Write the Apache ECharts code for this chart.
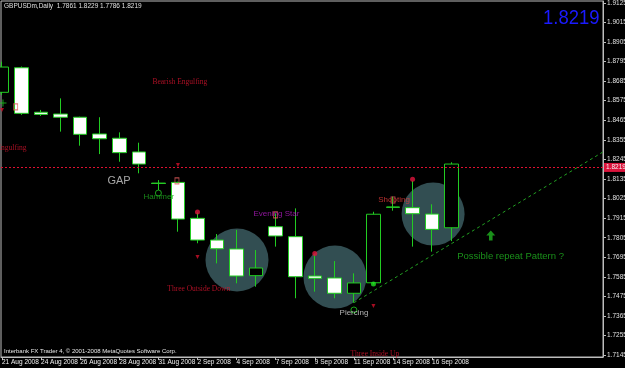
<!DOCTYPE html>
<html>
<head>
<meta charset="utf-8">
<script src="https://cdn.jsdelivr.net/npm/echarts@6/dist/echarts.min.js"></script>
<style>
  html, body { margin: 0; padding: 0; background: #000; }
  #chart { width: 625px; height: 368px; }
</style>
</head>
<body>
<div id="chart"></div>
<script>
// GBPUSDm daily bars
const symbolName = 'GBPUSDm';
const dates = [
  '21 Aug 2008', '22 Aug 2008', '24 Aug 2008', '25 Aug 2008', '26 Aug 2008', '27 Aug 2008',
  '28 Aug 2008', '29 Aug 2008', '31 Aug 2008', '1 Sep 2008', '2 Sep 2008', '3 Sep 2008',
  '4 Sep 2008', '5 Sep 2008', '7 Sep 2008', '8 Sep 2008', '9 Sep 2008', '10 Sep 2008',
  '11 Sep 2008', '12 Sep 2008', '14 Sep 2008', '15 Sep 2008', '16 Sep 2008', '17 Sep 2008'
];
const opens  = [1.8622, 1.8760, 1.8510, 1.8500, 1.8482, 1.8388, 1.8364, 1.8287, 1.8112, 1.8116, 1.7914, 1.7792,
                1.7742, 1.7592, 1.7867, 1.7811, 1.7590, 1.7579, 1.7493, 1.7552, 1.7978, 1.7974, 1.7938, 1.7861];
const highs  = [1.8794, 1.8767, 1.8523, 1.8588, 1.8485, 1.8482, 1.8397, 1.8339, 1.8129, 1.8120, 1.7947, 1.7826,
                1.7849, 1.7736, 1.7942, 1.7970, 1.7712, 1.7674, 1.7605, 1.7951, 1.8036, 1.8124, 1.7993, 1.8229];
const lows   = [1.8607, 1.8495, 1.8489, 1.8401, 1.8322, 1.8275, 1.8232, 1.8167, 1.8073, 1.7839, 1.7774, 1.7661,
                1.7549, 1.7530, 1.7755, 1.7465, 1.7502, 1.7465, 1.7440, 1.7543, 1.7957, 1.7755, 1.7727, 1.7786];
const closes = [1.8764, 1.8504, 1.8498, 1.8482, 1.8386, 1.8361, 1.8283, 1.8219, 1.8110, 1.7910, 1.7792, 1.7743,
                1.7590, 1.7635, 1.7815, 1.7586, 1.7577, 1.7493, 1.7551, 1.7937, 1.7976, 1.7940, 1.7852, 1.8219];

const priceTicks = [1.9125, 1.9015, 1.8905, 1.8795, 1.8685, 1.8575, 1.8465, 1.8355, 1.8245, 1.8135,
                    1.8025, 1.7915, 1.7805, 1.7695, 1.7585, 1.7475, 1.7365, 1.7255, 1.7145];
const dateTicks = [0, 2, 4, 6, 8, 10, 12, 14, 16, 18, 20, 22];

// trend line from the 11 Sep low out to the right edge
const trendX = [18, 30.74];
const trendY = [1.7440, 1.8287];

// shaded circles around the pattern groups (centre in bar index / price)
const circleX = [12.02, 17.03, 22.05];
const circleY = [1.7680, 1.7584, 1.7938];

// pattern labels drawn by the indicator
const annoText = ['Engulfing', 'Bearish Engulfing', 'GAP', 'Hammer', 'Three Outside Down', 'Evening Star',
                  'Piercing', 'Shooting', 'Three Inside Up', 'Possible repeat Pattern ?'];
const annoX = [1.28, 7.67, 5.99, 7.21, 8.43, 12.84, 17.24, 19.22, 17.80, 23.26];
const annoY = [1.8309, 1.8680, 1.8124, 1.8034, 1.7515, 1.7938, 1.7382, 1.8017, 1.7152, 1.7702];

// small arrow objects
const redDotX = [10, 16, 21];
const redDotY = [1.7950, 1.7716, 1.8133];
const redMarkX = [0, 9, 10, 19];
const redMarkY = [1.8523, 1.8214, 1.7697, 1.7422];
const redBoxX = [0.70, 8.95, 13.99, 20.0];
const redBoxY = [1.8540, 1.8124, 1.7933, 1.8017];
const greenRingX = [8.0, 18.0];
const greenRingY = [1.8056, 1.7399];
const greenPlusX = [0.05];
const greenPlusY = [1.8562];
const greenDotX = [19];
const greenDotY = [1.7545];
const arrowX = [25.0];
const arrowY = [1.7817];

const last = opens.length - 1;
const lastClose = closes[last];

const zip = (xs, ys) => xs.map((x, i) => [x, ys[i]]);

const labelStyles = {
  'Engulfing':          { color: '#d8142e', fontFamily: 'Liberation Serif', fontSize: 7.5, position: 'left' },
  'Bearish Engulfing':  { color: '#d8142e', fontFamily: 'Liberation Serif', fontSize: 7.5 },
  'GAP':                { color: '#cfcfcf', fontFamily: 'Liberation Sans', fontSize: 11, position: 'inside' },
  'Hammer':             { color: '#1faa1f', fontFamily: 'Liberation Sans', fontSize: 8 },
  'Three Outside Down': { color: '#d8142e', fontFamily: 'Liberation Serif', fontSize: 7.5 },
  'Evening Star':       { color: '#b41cc4', fontFamily: 'Liberation Sans', fontSize: 8 },
  'Piercing':           { color: '#dcdcdc', fontFamily: 'Liberation Sans', fontSize: 8 },
  'Shooting':           { color: '#e83c3c', fontFamily: 'Liberation Sans', fontSize: 8 },
  'Three Inside Up':    { color: '#d8142e', fontFamily: 'Liberation Serif', fontSize: 7.5 },
  'Possible repeat Pattern ?': { color: '#20b420', fontFamily: 'Liberation Sans', fontSize: 9.5 }
};

const annoData = annoText.map((t, i) => {
  const s = labelStyles[t];
  return {
    value: [annoX[i], annoY[i]],
    label: {
      show: true,
      formatter: t,
      position: s.position || 'right',
      distance: 0,
      color: s.color,
      fontFamily: s.fontFamily,
      fontSize: s.fontSize
    }
  };
});

const chart = echarts.init(document.getElementById('chart'));
const green = '#22cc22';

const option = {
  backgroundColor: '#000',
  animation: false,
  textStyle: { fontFamily: 'Liberation Sans' },
  grid: {
    left: 1, right: 22, top: 1, bottom: 11,
    show: true, borderColor: '#bdbdbd', borderWidth: 1, backgroundColor: '#000',
    outerBoundsMode: 'none'
  },
  xAxis: {
    type: 'value',
    min: -0.05,
    max: 30.74,
    splitLine: { show: false },
    axisLine: { onZero: false, lineStyle: { color: '#bdbdbd' } },
    axisTick: { customValues: dateTicks, length: 3, lineStyle: { color: '#bdbdbd' } },
    axisLabel: {
      customValues: dateTicks,
      formatter: v => dates[v],
      color: '#f0f0f0',
      fontSize: 6.5,
      align: 'left',
      margin: 2
    }
  },
  yAxis: {
    type: 'value',
    position: 'right',
    min: 1.7135,
    max: 1.9135,
    splitLine: { show: false },
    axisLine: { show: true, onZero: false, lineStyle: { color: '#bdbdbd' } },
    axisTick: { show: true, customValues: priceTicks, length: 3, lineStyle: { color: '#bdbdbd' } },
    axisLabel: {
      customValues: priceTicks,
      formatter: v => v.toFixed(4),
      color: '#e0e0e0',
      fontSize: 6.5,
      margin: 4
    }
  },
  graphic: [
    {
      type: 'text', x: 4, y: 3,
      style: {
        text: `${symbolName},Daily  ${opens[last].toFixed(4)} ${highs[last].toFixed(4)} ${lows[last].toFixed(4)} ${lastClose.toFixed(4)}`,
        fill: '#e0e0e0', font: '6.5px "Liberation Sans"'
      }
    },
    {
      type: 'text', x: 543, y: 8, scaleX: 0.88,
      style: { text: lastClose.toFixed(4), fill: '#1a1aff', font: '21px "Liberation Sans"' }
    },
    {
      type: 'text', x: 4, y: 348,
      style: {
        text: 'Interbank FX Trader 4, \u00a9 2001-2008 MetaQuotes Software Corp.',
        fill: '#e8e8e8', font: '6px "Liberation Sans"'
      }
    }
  ],
  series: [
    {
      type: 'scatter',
      data: zip(circleX, circleY),
      symbolSize: 63,
      itemStyle: { color: '#3e6266' },
      silent: true,
      z: 1
    },
    {
      type: 'candlestick',
      // [bar index, open, close, low, high]
      data: opens.map((o, i) => [i, o, closes[i], lows[i], highs[i]]),
      encode: { x: 0, y: [1, 2, 3, 4] },
      barWidth: 14,
      z: 3,
      itemStyle: {
        color: '#000', color0: '#fff',
        borderColor: green, borderColor0: green, borderWidth: 1
      },
      markLine: {
        silent: true,
        symbol: 'none',
        lineStyle: { color: '#e01030', type: [2, 2], width: 1, opacity: 1 },
        label: {
          show: true,
          position: 'end',
          distance: 1,
          formatter: () => lastClose.toFixed(4),
          backgroundColor: '#dc143c',
          color: '#f4f4f4',
          fontSize: 6.5,
          padding: [1, 2, 1, 2]
        },
        data: [{ yAxis: lastClose }]
      }
    },
    {
      type: 'line',
      data: zip(trendX, trendY),
      symbol: 'none',
      lineStyle: { color: '#22a022', type: [3, 3], width: 1 },
      z: 4
    },
    {
      type: 'scatter',
      data: zip(redDotX, redDotY),
      symbolSize: 5,
      itemStyle: { color: '#e0143c' },
      z: 5
    },
    {
      type: 'scatter',
      data: zip(redMarkX, redMarkY),
      symbol: 'triangle',
      symbolRotate: 180,
      symbolSize: 4,
      itemStyle: { color: '#d0102a' },
      z: 5
    },
    {
      type: 'scatter',
      data: zip(redBoxX, redBoxY),
      symbol: 'rect',
      symbolSize: [4, 6],
      itemStyle: { color: 'rgba(0,0,0,0)', borderColor: '#e05a5a', borderWidth: 1 },
      z: 5
    },
    {
      type: 'scatter',
      data: zip(greenRingX, greenRingY),
      symbolSize: 6,
      itemStyle: { color: 'rgba(0,0,0,0)', borderColor: green, borderWidth: 1 },
      z: 5
    },
    {
      type: 'scatter',
      data: zip(greenPlusX, greenPlusY),
      symbol: 'path://M3,0H4V3H7V4H4V7H3V4H0V3H3Z',
      symbolSize: 7,
      itemStyle: { color: green },
      z: 5
    },
    {
      type: 'scatter',
      data: zip(greenDotX, greenDotY),
      symbolSize: 5,
      itemStyle: { color: '#22e022' },
      z: 5
    },
    {
      type: 'scatter',
      data: zip(arrowX, arrowY),
      symbol: 'path://M5,0L10,5L7,5L7,10L3,10L3,5L0,5Z',
      symbolSize: [9, 10],
      itemStyle: { color: '#20b420' },
      z: 5
    },
    {
      type: 'scatter',
      data: annoData,
      symbolSize: 1,
      itemStyle: { color: 'rgba(0,0,0,0)' },
      silent: true,
      z: 6
    }
  ]
};

chart.setOption(option);
window.addEventListener('resize', () => chart.resize());
</script>
</body>
</html>
